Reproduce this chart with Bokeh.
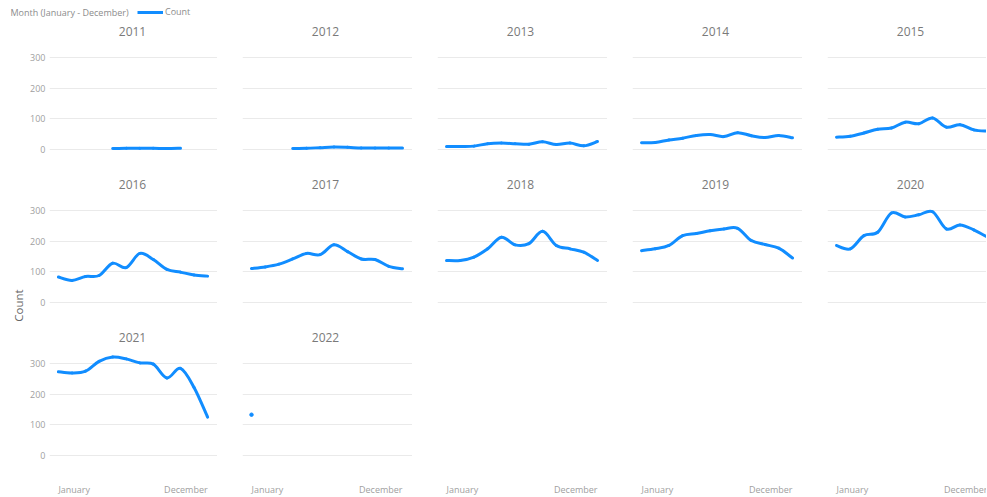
import math
from bokeh.plotting import figure
from bokeh.layouts import column, row
from bokeh.models import FixedTicker, Label, Legend, LegendItem, ColumnDataSource, Range1d
from bokeh.embed import file_html
from bokeh.resources import INLINE

# ---------------- data ----------------
N = None
months = list(range(1, 13))
month_tick_labels = ["January", "December"]
years = [2011, 2012, 2013, 2014, 2015, 2016, 2017, 2018, 2019, 2020, 2021, 2022]
y_ticks = [0, 100, 200, 300]

count_2011 = [N, N, N, N, 3, 4, 4, 4, 3, 4, N, N]
count_2012 = [N, N, N, 3, 4, 6, 8, 7, 5, 5, 5, 5]
count_2013 = [10, 10, 11, 19, 21, 19, 17, 25, 16, 21, 12, 26]
count_2014 = [22, 23, 31, 37, 46, 49, 42, 55, 45, 39, 46, 38]
count_2015 = [40, 43, 54, 66, 70, 89, 84, 103, 73, 81, 64, 60]
count_2016 = [83, 72, 85, 88, 128, 114, 160, 140, 108, 99, 90, 86]
count_2017 = [111, 116, 125, 142, 160, 156, 188, 166, 142, 140, 118, 110]
count_2018 = [137, 137, 148, 175, 213, 188, 192, 232, 186, 175, 164, 137]
count_2019 = [169, 175, 186, 218, 225, 234, 240, 242, 202, 189, 177, 145]
count_2020 = [186, 175, 218, 229, 292, 279, 286, 296, 240, 253, 237, 213]
count_2021 = [273, 269, 275, 307, 321, 315, 302, 298, 253, 284, 222, 125]
count_2022 = [133, N, N, N, N, N, N, N, N, N, N, N]

counts = {
    2011: count_2011, 2012: count_2012, 2013: count_2013, 2014: count_2014,
    2015: count_2015, 2016: count_2016, 2017: count_2017, 2018: count_2018,
    2019: count_2019, 2020: count_2020, 2021: count_2021, 2022: count_2022,
}

# ---------------- style / layout ----------------
BLUE = "#118DFF"
FONT = "Open Sans"
GRID = "#EAEAEA"
TICK_C = "#A0A0A0"
TITLE_C = "#7A7A7A"
LEG_C = "#8C8C8C"

PX_MONTH = 151 / 11      # pixels per month
JAN_PX = 9               # January offset from panel left
PX_UNIT = 92 / 300       # pixels per count unit
FRAME_W = 170
STRIP_W = 27
TOP_H = 20
col_widths = [190, 195, 195, 195, 184]
col_border = [20, 25, 25, 25, 25]
row_heights = [153, 153, 170]
zero_px = [24, 24, 41]   # 0-line offset from frame bottom
NCOLS = 5


def smooth_source(vals):
    pts = [(m, v) for m, v in zip(months, vals) if v is not None]
    d = dict(x0=[], y0=[], x1=[], y1=[], cx0=[], cy0=[], cx1=[], cy1=[])
    n = len(pts)
    for i in range(n - 1):
        p0 = pts[i - 1] if i > 0 else pts[i]
        p1 = pts[i]
        p2 = pts[i + 1]
        p3 = pts[i + 2] if i + 2 < n else pts[i + 1]
        d["x0"].append(p1[0]); d["y0"].append(p1[1])
        d["x1"].append(p2[0]); d["y1"].append(p2[1])
        d["cx0"].append(p1[0] + (p2[0] - p0[0]) / 6)
        d["cy0"].append(p1[1] + (p2[1] - p0[1]) / 6)
        d["cx1"].append(p2[0] - (p3[0] - p1[0]) / 6)
        d["cy1"].append(p2[1] - (p3[1] - p1[1]) / 6)
    return ColumnDataSource(d), pts


def base_fig(w, h, bl=0, **kw):
    return figure(width=w, height=h, title=None, output_backend="svg",
                  toolbar_location=None, tools="",
                  min_border_left=bl, min_border_right=0,
                  min_border_top=0, min_border_bottom=0,
                  outline_line_color=None,
                  background_fill_color="white", border_fill_color="white", **kw)


def make_fig(r, c):
    w = col_widths[c]
    bl = col_border[c]
    fw = w - bl
    h = row_heights[r]
    xs = 1 - JAN_PX / PX_MONTH
    ys = -zero_px[r] / PX_UNIT
    p = base_fig(w, h, bl,
                 x_range=Range1d(xs, xs + fw / PX_MONTH),
                 y_range=Range1d(ys, ys + h / PX_UNIT),
                 x_axis_location=None,
                 y_axis_location="left" if c == 0 else None)
    p.xgrid.visible = False
    p.ygrid.ticker = FixedTicker(ticks=y_ticks)
    p.ygrid.grid_line_color = GRID
    p.ygrid.grid_line_width = 1
    if c == 0:
        ax = p.yaxis[0]
        ax.ticker = FixedTicker(ticks=y_ticks)
        ax.axis_line_color = None
        ax.major_tick_line_color = None
        ax.minor_tick_line_color = None
        ax.major_tick_out = 0
        ax.major_tick_in = 0
        ax.minor_tick_out = 0
        ax.minor_tick_in = 0
        ax.major_label_standoff = 4
        ax.major_label_text_font = FONT
        ax.major_label_text_font_size = "9px"
        ax.major_label_text_color = TICK_C
    return p


figs = [[None] * NCOLS for _ in range(3)]
for idx, yr in enumerate(years):
    r, c = divmod(idx, NCOLS)
    p = make_fig(r, c)
    src, pts = smooth_source(counts[yr])
    if len(pts) > 1:
        p.bezier(x0="x0", y0="y0", x1="x1", y1="y1",
                 cx0="cx0", cy0="cy0", cx1="cx1", cy1="cy1",
                 source=src, line_color=BLUE, line_width=3, line_cap="round")
    else:
        p.scatter(x=[q[0] for q in pts], y=[q[1] for q in pts], size=3.5,
                  marker="circle", fill_color=BLUE, line_color=BLUE)
    p.add_layout(Label(x=FRAME_W / 2 - 2, y=zero_px[r] + 118, x_units="screen", y_units="screen",
                       text=str(yr), text_align="center", text_baseline="middle",
                       text_font=FONT, text_font_size="12px", text_color=TITLE_C))
    figs[r][c] = p

# empty cells in the last row
for c in range(NCOLS):
    if figs[2][c] is None:
        p = make_fig(2, c)
        p.ygrid.visible = False
        figs[2][c] = p

# month labels along the bottom
for c in range(NCOLS):
    p = figs[2][c]
    p.add_layout(Label(x=months[0], y=7, x_units="data", y_units="screen",
                       text=month_tick_labels[0], text_align="left", text_baseline="alphabetic",
                       text_font=FONT, text_font_size="9px", text_color=TICK_C))
    p.add_layout(Label(x=months[-1], y=7, x_units="data", y_units="screen",
                       text=month_tick_labels[1], text_align="right", text_baseline="alphabetic",
                       text_font=FONT, text_font_size="9px", text_color=TICK_C))

grid_h = sum(row_heights)

# left strip with the y axis title
strip = base_fig(STRIP_W, grid_h, x_range=Range1d(0, 1), y_range=Range1d(0, 1),
                 x_axis_location=None, y_axis_location=None)
strip.xgrid.visible = False
strip.ygrid.visible = False
strip.add_layout(Label(x=18, y=grid_h - (305 - TOP_H), x_units="screen", y_units="screen",
                       text="Count", angle=math.pi / 2, text_align="center",
                       text_baseline="middle", text_font=FONT, text_font_size="11.5px",
                       text_color="#666666"))

# top strip with the legend
total_w = STRIP_W + sum(col_widths)
top = base_fig(total_w, TOP_H, x_range=Range1d(0, 1), y_range=Range1d(0, 1),
               x_axis_location=None, y_axis_location=None)
top.xgrid.visible = False
top.ygrid.visible = False
top.add_layout(Label(x=10, y=TOP_H - 12, x_units="screen", y_units="screen",
                     text="Month (January - December)", text_align="left",
                     text_baseline="middle", text_font=FONT, text_font_size="9px",
                     text_color=LEG_C))
# legend key: the series drawn with the same style (its points fall outside this strip's range)
leg_r = top.line(x=months, y=count_2013, line_color=BLUE, line_width=3)
leg = Legend(items=[LegendItem(label="Count", renderers=[leg_r])],
             location=(137, TOP_H - 18), orientation="horizontal",
             glyph_width=26, glyph_height=12, label_height=12, label_standoff=2,
             padding=0, margin=0, spacing=0, border_line_color=None,
             background_fill_alpha=0, label_text_font=FONT, label_text_font_size="9px",
             label_text_color=LEG_C)
top.add_layout(leg)

layout = column(top, row(strip, column(*[row(*figs[r]) for r in range(3)])))
open("out.html", "w").write(file_html(layout, INLINE))
